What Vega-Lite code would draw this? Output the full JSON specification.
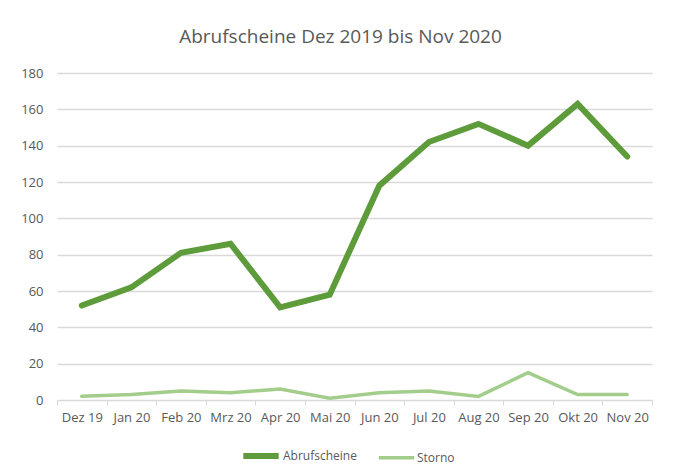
{
  "$schema": "https://vega.github.io/schema/vega-lite/v6.json",
  "autosize": "none",
  "width": 595,
  "height": 327,
  "padding": {"left": 57, "top": 73, "right": 21, "bottom": 74},
  "background": "white",
  "title": {
    "text": "Abrufscheine Dez 2019 bis Nov 2020",
    "fontSize": 19,
    "font": "Open Sans",
    "fontWeight": "normal",
    "color": "#595959",
    "anchor": "middle",
    "dx": -14,
    "offset": 20
  },
  "data": {
    "values": [
      {"monat": "Dez 19", "serie": "Abrufscheine", "wert": 52},
      {"monat": "Jan 20", "serie": "Abrufscheine", "wert": 62},
      {"monat": "Feb 20", "serie": "Abrufscheine", "wert": 81},
      {"monat": "Mrz 20", "serie": "Abrufscheine", "wert": 86},
      {"monat": "Apr 20", "serie": "Abrufscheine", "wert": 51},
      {"monat": "Mai 20", "serie": "Abrufscheine", "wert": 58},
      {"monat": "Jun 20", "serie": "Abrufscheine", "wert": 118},
      {"monat": "Jul 20", "serie": "Abrufscheine", "wert": 142},
      {"monat": "Aug 20", "serie": "Abrufscheine", "wert": 152},
      {"monat": "Sep 20", "serie": "Abrufscheine", "wert": 140},
      {"monat": "Okt 20", "serie": "Abrufscheine", "wert": 163},
      {"monat": "Nov 20", "serie": "Abrufscheine", "wert": 134},
      {"monat": "Dez 19", "serie": "Storno", "wert": 2},
      {"monat": "Jan 20", "serie": "Storno", "wert": 3},
      {"monat": "Feb 20", "serie": "Storno", "wert": 5},
      {"monat": "Mrz 20", "serie": "Storno", "wert": 4},
      {"monat": "Apr 20", "serie": "Storno", "wert": 6},
      {"monat": "Mai 20", "serie": "Storno", "wert": 1},
      {"monat": "Jun 20", "serie": "Storno", "wert": 4},
      {"monat": "Jul 20", "serie": "Storno", "wert": 5},
      {"monat": "Aug 20", "serie": "Storno", "wert": 2},
      {"monat": "Sep 20", "serie": "Storno", "wert": 15},
      {"monat": "Okt 20", "serie": "Storno", "wert": 3},
      {"monat": "Nov 20", "serie": "Storno", "wert": 3}
    ]
  },
  "mark": {"type": "line", "strokeCap": "round"},
  "encoding": {
    "x": {
      "field": "monat",
      "type": "nominal",
      "sort": null,
      "scale": {"type": "band", "paddingInner": 0, "paddingOuter": 0},
      "axis": {
        "title": null,
        "labelAngle": 0,
        "labelFont": "Open Sans",
        "labelFontSize": 13,
        "labelColor": "#595959",
        "labelPadding": 6,
        "tickBand": "extent",
        "tickColor": "#d9d9d9",
        "tickSize": 5,
        "domainColor": "#d9d9d9",
        "domainWidth": 1,
        "grid": false
      }
    },
    "y": {
      "field": "wert",
      "type": "quantitative",
      "scale": {"domain": [0, 180]},
      "axis": {
        "title": null,
        "values": [0, 20, 40, 60, 80, 100, 120, 140, 160, 180],
        "labelFont": "Open Sans",
        "labelFontSize": 13,
        "labelColor": "#595959",
        "labelPadding": 14,
        "domain": false,
        "ticks": false,
        "gridColor": "#d9d9d9",
        "gridWidth": 1.3
      }
    },
    "color": {
      "field": "serie",
      "type": "nominal",
      "scale": {"domain": ["Abrufscheine", "Storno"], "range": ["#5e9b3b", "#a3cd8b"]},
      "legend": {
        "title": null,
        "orient": "none",
        "legendX": 183,
        "legendY": 362,
        "direction": "horizontal",
        "symbolType": "stroke",
        "symbolStrokeWidth": 5,
        "symbolSize": 1250,
        "labelOffset": 1,
        "labelFont": "Open Sans",
        "labelFontSize": 12,
        "labelColor": "#595959",
        "columnPadding": 14
      }
    },
    "strokeWidth": {
      "field": "serie",
      "type": "nominal",
      "scale": {"domain": ["Abrufscheine", "Storno"], "range": [6, 3.5]},
      "legend": null
    }
  },
  "config": {"view": {"stroke": null}}
}
